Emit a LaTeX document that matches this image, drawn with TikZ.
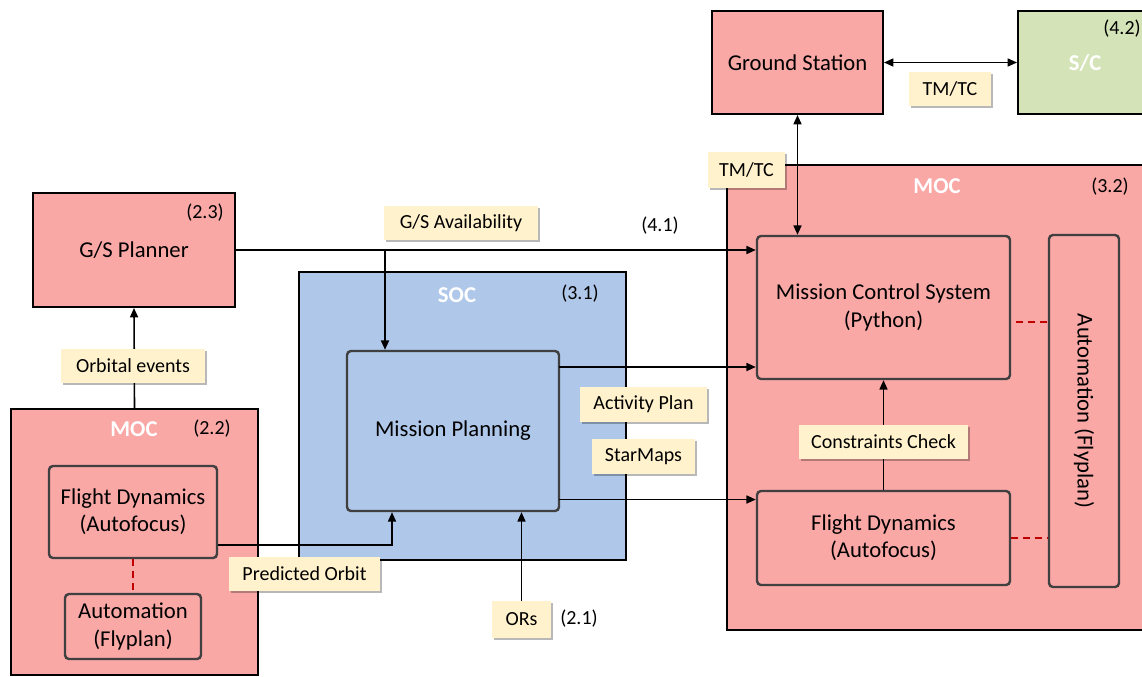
\documentclass[tikz,border=0pt]{standalone}
\usepackage{fontspec}
\setmainfont{Carlito}
\usetikzlibrary{arrows.meta,shadows}

\definecolor{mocpink}{RGB}{249,168,166}
\definecolor{socblue}{RGB}{175,199,233}
\definecolor{scgreen}{RGB}{213,227,184}
\definecolor{tagfill}{RGB}{255,242,204}
\definecolor{innerline}{RGB}{64,64,64}
\definecolor{linkred}{RGB}{192,0,0}

\tikzset{
  sz/.style 2 args={minimum width=#1*0.75pt, minimum height=#2*0.75pt},
  outerbox/.style={draw=black, line width=1.5pt, inner sep=0pt},
  innerbox/.style={draw=innerline, line width=1.8pt, rounded corners=3pt, inner sep=0pt,
    align=center, font=\fontsize{17}{20.5}\selectfont},
  tag/.style={fill=tagfill, inner sep=0pt, font=\fontsize{15}{18}\selectfont,
    drop shadow={shadow xshift=1.6pt, shadow yshift=-1.6pt, fill=black, opacity=0.28}},
  title/.style={text=white, font=\fontsize{17}{20}\selectfont\bfseries},
  ref/.style={font=\fontsize{15}{18}\selectfont},
  flow/.style={draw=black, line width=1.2pt, -{Triangle[length=7pt,width=6pt]}},
  flow2/.style={draw=black, line width=1.2pt, {Triangle[length=7pt,width=6pt]}-{Triangle[length=7pt,width=6pt]}},
  peer/.style={draw=linkred, line width=1.4pt, dashed, dash pattern=on 5pt off 4pt},
}

\begin{document}
\begin{tikzpicture}[x=0.75pt, y=-0.75pt]
\useasboundingbox (0,0) rectangle (1142,676);

% container boxes
\node[outerbox, fill=mocpink, sz={423}{465}] (moc32) at (938.5,397.5) {};
\node[outerbox, fill=socblue, sz={327}{288}] (soc) at (462.5,416) {};
\node[outerbox, fill=mocpink, sz={247}{266}] (moc22) at (134.5,542) {};

\node[title] (moc32t) at (937,186) {MOC};
\node[ref] (moc32r) at (1110,187) {(3.2)};
\node[title] (soct) at (457,295) {SOC};
\node[ref] (socr) at (580,294) {(3.1)};
\node[title] (moc22t) at (134,429) {MOC};
\node[ref] (moc22r) at (212,429) {(2.2)};

% top row
\node[outerbox, fill=mocpink, sz={171}{103}, font=\fontsize{17}{20}\selectfont] (gs) at (797.5,62.5) {Ground Station};
\node[outerbox, fill=scgreen, sz={132}{103}] (sc) at (1084,62.5) {};
\node[title] (sct) at (1085,63) {S/C};
\node[ref] (scr) at (1122,29) {(4.2)};

% ground station planner
\node[outerbox, fill=mocpink, sz={202}{114}, font=\fontsize{17}{20}\selectfont] (gsp) at (134,250) {G/S Planner};
\node[ref] (gspr) at (205,213) {(2.3)};

% inner components
\node[innerbox, fill=mocpink, sz={253}{143}] (mcs) at (883.5,307.5) {Mission Control System\\(Python)};
\node[innerbox, fill=mocpink, sz={253}{94}] (fd2) at (883.5,538) {Flight Dynamics\\(Autofocus)};
\node[innerbox, fill=mocpink, sz={70}{352}] (auto2) at (1084,411) {};
\node[rotate=-90, font=\fontsize{17}{20}\selectfont] (auto2t) at (1084,411) {Automation (Flyplan)};
\node[innerbox, fill=socblue, sz={212}{160}] (mp) at (453,431) {Mission Planning};
\node[innerbox, fill=mocpink, sz={168}{92}] (fd1) at (133,512) {Flight Dynamics\\(Autofocus)};
\node[innerbox, fill=mocpink, sz={136}{65}] (auto1) at (133,626.5) {Automation\\(Flyplan)};

% data flows
\coordinate (br) at (385,250);
\coordinate (apo) at (559,367);
\coordinate (smo) at (559,499.5);
\coordinate (mcsd) at (1016,322);

\draw[flow2] (gs.east) -- (sc.west);
\draw[flow2] (gs.south) -- (gs.south |- mcs.north);
\draw[flow] (gsp.east) -- (gsp.east -| mcs.west);
\draw[flow] (br) -- (br |- mp.north);
\draw[flow] (apo) -- (apo -| mcs.west);
\draw[flow] (smo) -- (smo -| fd2.west);
\draw[flow] (fd2.north) -- (mcs.south);
\draw[flow] (moc22.north) -- (gsp.south);
\draw[flow] ([yshift=-24.75pt]fd1.east) -| ([xshift=-45.75pt]mp.south);

% automation links
\draw[peer] (mcsd) -- (mcsd -| auto2.west);
\draw[peer] (fd2.east) -- (fd2.east -| auto2.west);
\draw[peer] (fd1.south) -- (auto1.north);

% flow tags
\node[tag, sz={82}{34}] (tmtc1) at (950,89) {TM/TC};
\node[tag, sz={77}{36}] (tmtc2) at (746.5,170) {TM/TC};
\node[tag, sz={169}{34}] (cc) at (883.5,442) {Constraints Check};
\node[tag, sz={154}{34}] (gsa) at (461,223) {G/S Availability};
\node[ref] (r41) at (660,226) {(4.1)};
\node[tag, sz={127}{35}] (ap) at (643.5,404.5) {Activity Plan};
\node[tag, sz={103}{35}] (sm) at (643.5,456.5) {StarMaps};
\node[tag, sz={144}{34}] (oe) at (133,366) {Orbital events};
\node[tag, sz={151}{34}] (po) at (304.5,574) {Predicted Orbit};
\node[tag, sz={59}{37}] (ors) at (521.5,619.5) {ORs};
\node[ref] (r21) at (579,619) {(2.1)};
\draw[flow] (ors.north) -- (ors.north |- mp.south);
\end{tikzpicture}
\end{document}
